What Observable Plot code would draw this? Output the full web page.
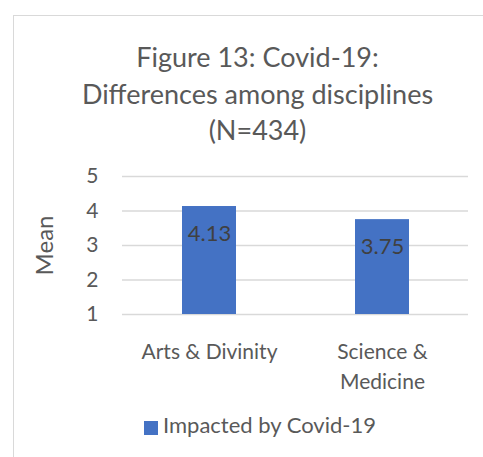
<!DOCTYPE html>
<html>
<head>
<meta charset="utf-8">
<script src="https://cdn.jsdelivr.net/npm/d3@7"></script>
<script src="https://cdn.jsdelivr.net/npm/@observablehq/plot@0.6"></script>
<style>
  html, body { margin: 0; padding: 0; background: #fff; }
  #wrap { position: relative; width: 483px; height: 457px; overflow: hidden; font-family: Lato, "Open Sans", sans-serif; color: #595959; }
  #frame { position: absolute; left: 13px; top: 15px; width: 600px; height: 600px; border-left: 1px solid #d9d9d9; border-top: 1px solid #d9d9d9; }
  #title { position: absolute; left: 13px; width: 489px; top: 39px; text-align: center; font-size: 27px; line-height: 36.5px; color: #595959; white-space: nowrap; }
  #chart { position: absolute; left: 0; top: 0; }
  #legend-sw { position: absolute; left: 144px; top: 421px; width: 14px; height: 14px; background: #4472C4; }
  #legend-tx { position: absolute; left: 163px; top: 414px; font-size: 22px; line-height: 22px; color: #595959; white-space: nowrap; }
</style>
</head>
<body>
<div id="wrap">
  <div id="frame"></div>
  <div id="chart"></div>
  <div id="title">Figure 13: Covid-19:<br>Differences among disciplines<br>(N=434)</div>
  <div id="legend-sw"></div><div id="legend-tx"></div>
</div>
<script>
const categories = ["Arts & Divinity", "Science & Medicine"];
const categoryLabels = ["Arts & Divinity", "Science &\nMedicine"];
const values = [4.13, 3.75];
const valueLabels = ["4.13", "3.75"];
const yTicks = [1, 2, 3, 4, 5];
const seriesName = "Impacted by Covid-19";
const yLabel = "Mean";

document.getElementById("legend-tx").textContent = seriesName;

const data = categories.map((c, i) => ({category: c, value: values[i], label: valueLabels[i]}));
const labelMap = new Map(categories.map((c, i) => [c, categoryLabels[i]]));

const plot = Plot.plot({
  width: 483,
  height: 457,
  marginLeft: 122,
  marginRight: 15,
  marginTop: 176,
  marginBottom: 143,
  style: {fontFamily: "Lato, 'Open Sans', sans-serif", color: "#595959", background: "transparent", overflow: "visible"},
  x: {domain: categories, paddingInner: 0.69, paddingOuter: 0.345, label: null},
  y: {domain: [1, 5], label: null},
  marks: [
    Plot.gridY(yTicks, {stroke: "#d9d9d9", strokeOpacity: 1, strokeWidth: 1.4}),
    Plot.barY(data, {x: "category", y1: 1, y2: "value", fill: "#4472C4"}),
    Plot.text(data, {x: "category", y: "value", text: "label", dy: 27.5, fontSize: 22, fill: "#404040"}),
    Plot.axisY(yTicks, {tickSize: 0, tickPadding: 24, fontSize: 21, fill: "#595959", label: null}),
    Plot.axisX({tickSize: 0, tickPadding: 23, fontSize: 21, fill: "#595959", lineHeight: 1.43, tickFormat: d => labelMap.get(d), label: null}),
    Plot.text([yLabel], {frameAnchor: "left", textAnchor: "middle", dx: -77, rotate: -90, fontSize: 24, fill: "#595959"})
  ]
});
document.getElementById("chart").appendChild(plot);
</script>
</body>
</html>
